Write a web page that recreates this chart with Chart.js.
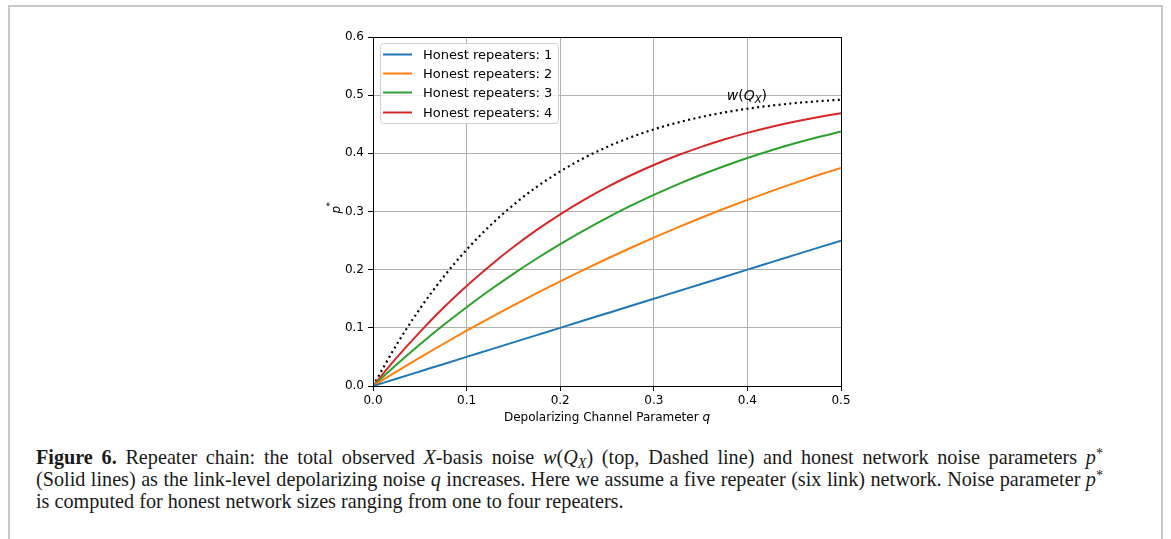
<!DOCTYPE html>
<html>
<head>
<meta charset="utf-8">
<script src="https://cdn.jsdelivr.net/npm/chart.js@4"></script>
<style>
    body { margin: 0; background: #fff; width: 1171px; height: 539px; overflow: hidden; position: relative; }
    #frame {
        position: absolute; left: 8px; top: 5px; width: 1155px; height: 560px;
        border: 2px solid #c8c8c8; box-sizing: border-box;
    }
    #chart { position: absolute; left: 0; top: 0; }
    #caption {
        position: absolute; left: 36px; top: 446px; width: 1067px;
        font-family: "Liberation Serif", "DejaVu Serif", serif;
        font-size: 20.2px; line-height: 22px; color: #1a1a1a;
    }
    #caption div { white-space: nowrap; }
    #caption .just { text-align: justify; text-align-last: justify; white-space: normal; }
    #caption i { font-style: italic; }
    #caption sub { font-size: 0.7em; vertical-align: -0.3em; line-height: 0; }
    #caption sup { font-size: 0.7em; vertical-align: 0.4em; line-height: 0; }
</style>
</head>
<body>
<div id="frame"></div>
<canvas id="chart" width="1171" height="432"></canvas>
<div id="caption">
    <div class="just"><b>Figure 6.</b> Repeater chain: the total observed <i>X</i>-basis noise <i>w</i>(<i>Q</i><sub><i>X</i></sub>) (top, Dashed line) and honest network noise parameters <i>p</i><sup>*</sup></div>
    <div class="just">(Solid lines) as the link-level depolarizing noise <i>q</i> increases. Here we assume a five repeater (six link) network. Noise parameter <i>p</i><sup>*</sup></div>
    <div>is computed for honest network sizes ranging from one to four repeaters.</div>
</div>
<script>
// Depolarizing channel parameter q (x values)
const qValues = [0, 0.025, 0.05, 0.075, 0.1, 0.125, 0.15, 0.175, 0.2, 0.225, 0.25,
    0.275, 0.3, 0.325, 0.35, 0.375, 0.4, 0.425, 0.45, 0.475, 0.5];

// p* for honest network sizes
const rep1 = [0, 0.0125, 0.025, 0.0375, 0.05, 0.0625, 0.075, 0.0875, 0.1, 0.1125, 0.125,
    0.1375, 0.15, 0.1625, 0.175, 0.1875, 0.2, 0.2125, 0.225, 0.2375, 0.25];
const rep2 = [0, 0.0247, 0.0488, 0.0722, 0.095, 0.1172, 0.1388, 0.1597, 0.18, 0.1997, 0.2188,
    0.2372, 0.255, 0.2722, 0.2888, 0.3047, 0.32, 0.3347, 0.3488, 0.3622, 0.375];
const rep3 = [0, 0.0366, 0.0713, 0.1043, 0.1355, 0.165, 0.1929, 0.2192, 0.244, 0.2673, 0.2891,
    0.3095, 0.3285, 0.3462, 0.3627, 0.3779, 0.392, 0.4049, 0.4168, 0.4276, 0.4375];
const rep4 = [0, 0.0482, 0.0927, 0.134, 0.172, 0.2069, 0.239, 0.2684, 0.2952, 0.3196, 0.3418,
    0.3619, 0.38, 0.3962, 0.4107, 0.4237, 0.4352, 0.4453, 0.4542, 0.462, 0.4688];

// total observed X-basis noise w(Q_X)
const wQx = [0, 0.0705, 0.1325, 0.1868, 0.2343, 0.2756, 0.3114, 0.3424, 0.3689, 0.3917, 0.411,
    0.4274, 0.4412, 0.4527, 0.4623, 0.4702, 0.4767, 0.4819, 0.4862, 0.4895, 0.4922];

const seriesLabels = ['Honest repeaters: 1', 'Honest repeaters: 2', 'Honest repeaters: 3', 'Honest repeaters: 4'];
const seriesColors = ['#1f77b4', '#ff7f0e', '#2ca02c', '#d62728'];

const xTicks = [0, 0.1, 0.2, 0.3, 0.4, 0.5];
const yTicks = [0, 0.1, 0.2, 0.3, 0.4, 0.5, 0.6];

const tickFont = { family: 'DejaVu Sans', size: 12 };

function toPoints(values) {
    return qValues.map((q, i) => ({ x: q, y: values[i] }));
}

const datasets = [rep1, rep2, rep3, rep4].map((vals, idx) => ({
    label: seriesLabels[idx],
    data: toPoints(vals),
    borderColor: seriesColors[idx],
    borderWidth: 2,
    pointRadius: 0,
    cubicInterpolationMode: 'monotone',
    fill: false
}));

datasets.push({
    label: 'w(Q_X)',
    data: toPoints(wQx),
    borderColor: '#000000',
    borderWidth: 2.2,
    borderDash: [2, 3.4],
    borderCapStyle: 'butt',
    pointRadius: 0,
    cubicInterpolationMode: 'monotone',
    fill: false
});

// frame, legend box, annotation and axis titles
const decorations = {
    id: 'decorations',
    afterDatasetsDraw(chart) {
        const ctx = chart.ctx;
        const area = chart.chartArea;
        const xs = chart.scales.x;
        const ys = chart.scales.y;
        ctx.save();

        // plot frame
        ctx.strokeStyle = '#000';
        ctx.lineWidth = 1;
        ctx.strokeRect(Math.round(area.left) + 0.5, Math.round(area.top) + 0.5,
            Math.round(area.right - area.left), Math.round(area.bottom - area.top));

        // legend
        const lx = area.left + 7, ly = area.top + 6, lw = 178, lh = 80;
        ctx.beginPath();
        ctx.roundRect(lx + 0.5, ly + 0.5, lw, lh, 3);
        ctx.fillStyle = 'rgba(255,255,255,0.8)';
        ctx.fill();
        ctx.strokeStyle = '#d0d0d0';
        ctx.stroke();
        ctx.font = '13px "DejaVu Sans"';
        ctx.textBaseline = 'middle';
        seriesLabels.forEach((label, i) => {
            const y = Math.round(ly + 11 + i * 19.2) + 0.5;
            ctx.strokeStyle = seriesColors[i];
            ctx.lineWidth = 2;
            ctx.beginPath();
            ctx.moveTo(lx + 3, y);
            ctx.lineTo(lx + 32, y);
            ctx.stroke();
            ctx.fillStyle = '#000';
            ctx.fillText(label, lx + 43, y + 1);
        });

        // w(Q_X) annotation
        let ax = xs.getPixelForValue(0.378);
        const ay = ys.getPixelForValue(0.5) + 1;
        ctx.fillStyle = '#000';
        ctx.font = 'italic 14px "DejaVu Sans"';
        ctx.textAlign = 'left';
        ctx.fillText('w', ax, ay);
        ax += ctx.measureText('w').width;
        ctx.font = '14px "DejaVu Sans"';
        ctx.fillText('(', ax, ay);
        ax += ctx.measureText('(').width;
        ctx.font = 'italic 14px "DejaVu Sans"';
        ctx.fillText('Q', ax, ay);
        ax += ctx.measureText('Q').width;
        ctx.font = 'italic 10px "DejaVu Sans"';
        ctx.fillText('X', ax, ay + 4);
        ax += ctx.measureText('X').width;
        ctx.font = '14px "DejaVu Sans"';
        ctx.fillText(')', ax, ay);

        // x axis title
        const xt1 = 'Depolarizing Channel Parameter ';
        ctx.font = '12px "DejaVu Sans"';
        const w1 = ctx.measureText(xt1).width;
        ctx.font = 'italic 12px "DejaVu Sans"';
        const w2 = ctx.measureText('q').width;
        const tx = (area.left + area.right) / 2 - (w1 + w2) / 2;
        const ty = area.bottom + 32;
        ctx.font = '12px "DejaVu Sans"';
        ctx.fillText(xt1, tx, ty);
        ctx.font = 'italic 12px "DejaVu Sans"';
        ctx.fillText('q', tx + w1, ty);

        // y axis title
        ctx.translate(area.left - 36, (area.top + area.bottom) / 2 - 2);
        ctx.rotate(-Math.PI / 2);
        ctx.font = 'italic 12px "DejaVu Sans"';
        ctx.fillText('p', -4, 0);
        ctx.font = '9px "DejaVu Sans"';
        ctx.fillText('*', 3, -6);

        ctx.restore();
    }
};

const chart = new Chart(document.getElementById('chart').getContext('2d'), {
    type: 'line',
    data: { datasets: datasets },
    options: {
        responsive: false,
        animation: false,
        devicePixelRatio: 1,
        layout: { padding: { left: 323, right: 330, top: 37, bottom: 0 } },
        plugins: {
            legend: { display: false },
            tooltip: { enabled: false }
        },
        scales: {
            x: {
                type: 'linear',
                min: 0,
                max: 0.5,
                afterBuildTicks: (scale) => { scale.ticks = xTicks.map(v => ({ value: v })); },
                afterFit: (scale) => { scale.height = 46; },
                ticks: {
                    font: tickFont,
                    color: '#000',
                    padding: 3,
                    maxRotation: 0,
                    callback: (v) => v.toFixed(1)
                },
                grid: { color: '#b0b0b0', tickColor: '#000', tickLength: 5, lineWidth: 1 },
                border: { display: true, color: '#000', width: 1 }
            },
            y: {
                type: 'linear',
                min: 0,
                max: 0.6,
                afterBuildTicks: (scale) => { scale.ticks = yTicks.map(v => ({ value: v })); },
                afterFit: (scale) => { scale.width = 50; },
                ticks: {
                    font: tickFont,
                    color: '#000',
                    padding: 4,
                    callback: (v) => v.toFixed(1)
                },
                grid: { color: '#b0b0b0', tickColor: '#000', tickLength: 5, lineWidth: 1 },
                border: { display: true, color: '#000', width: 1 }
            }
        }
    },
    plugins: [decorations]
});
</script>
</body>
</html>
